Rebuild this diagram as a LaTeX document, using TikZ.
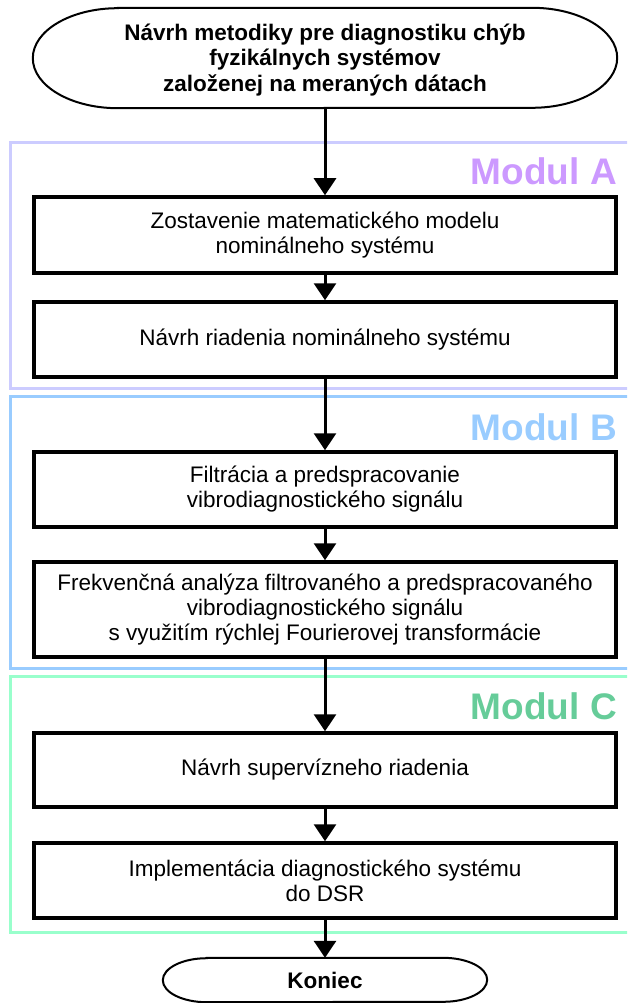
\documentclass[tikz,border=0pt]{standalone}
\usepackage{fontspec}
\setmainfont{Liberation Sans}
\usetikzlibrary{arrows.meta}

\definecolor{frameA}{HTML}{CCCCFF}
\definecolor{frameB}{HTML}{99CCFF}
\definecolor{frameC}{HTML}{99FFCC}
\definecolor{labelA}{HTML}{CC99FF}
\definecolor{labelB}{HTML}{99CCFF}
\definecolor{labelC}{HTML}{66CC99}

\begin{document}
\begin{tikzpicture}[x=1pt,y=-1pt,
  stepbox/.style={draw,line width=3.5pt,minimum width=582pt,inner sep=0pt,
    align=center,font=\fontsize{22.5}{25}\selectfont},
  termtext/.style={inner sep=0pt,align=center,font=\bfseries\fontsize{22.5}{25.5}\selectfont},
  termline/.style={line width=2pt},
  flow/.style={line width=3pt,-{Triangle[length=17pt,width=22pt]}},
  modframe/.style={line width=3pt},
  modlabel/.style={anchor=north east,inner sep=0pt,font=\bfseries\fontsize{37}{37}\selectfont},
]
\useasboundingbox (0,0) rectangle (627,1003);
\clip (0,0) rectangle (627,1003);

% module frames (open to the right edge)
\draw[modframe,frameA] (10,143) rectangle (660,388);
\draw[modframe,frameB] (10,396) rectangle (660,668);
\draw[modframe,frameC] (10,676) rectangle (660,932);
\node[modlabel,labelA] (labA) at (617,157) {Modul A};
\node[modlabel,labelB] (labB) at (617,413) {Modul B};
\node[modlabel,labelC] (labC) at (617,692) {Modul C};

% start terminal
\node[minimum width=584pt,minimum height=100pt,inner sep=0pt] (start) at (325,58) {};
\draw[termline] ([xshift=85pt]start.north west) -- ([xshift=-85pt]start.north east)
  arc[start angle=90,end angle=-90,x radius=85pt,y radius=50pt]
  -- ([xshift=85pt]start.south west)
  arc[start angle=270,end angle=90,x radius=85pt,y radius=50pt] -- cycle;
\node[termtext] (startT) at (325,60) {Návrh metodiky pre diagnostiku chýb\\fyzikálnych systémov\\založenej na meraných dátach};

% process steps
\node[stepbox,minimum height=76pt] (s1) at (325,235) {Zostavenie matematického modelu\\nominálneho systému};
\node[stepbox,minimum height=75pt] (s2) at (325,339.5) {Návrh riadenia nominálneho systému};
\node[stepbox,minimum height=75pt] (s3) at (325,489.5) {Filtrácia a predspracovanie\\vibrodiagnostického signálu};
\node[stepbox,minimum height=95pt] (s4) at (325,609.5) {Frekvenčná analýza filtrovaného a predspracovaného\\vibrodiagnostického signálu\\s využitím rýchlej Fourierovej transformácie};
\node[stepbox,minimum height=74pt] (s5) at (325,770) {Návrh supervízneho riadenia};
\node[stepbox,minimum height=75pt] (s6) at (325,880.5) {Implementácia diagnostického systému\\do DSR};

% end terminal
\node[minimum width=324pt,minimum height=44pt,inner sep=0pt] (stop) at (325,980) {};
\draw[termline] ([xshift=44pt]stop.north west) -- ([xshift=-44pt]stop.north east)
  arc[start angle=90,end angle=-90,x radius=44pt,y radius=22pt]
  -- ([xshift=44pt]stop.south west)
  arc[start angle=270,end angle=90,x radius=44pt,y radius=22pt] -- cycle;
\node[termtext] (stopT) at (stop) {Koniec};

% connectors
\draw[flow] (start.south) -- (s1.north);
\draw[flow] (s1.south) -- (s2.north);
\draw[flow] (s2.south) -- (s3.north);
\draw[flow] (s3.south) -- (s4.north);
\draw[flow] (s4.south) -- (s5.north);
\draw[flow] (s5.south) -- (s6.north);
\draw[flow] (s6.south) -- (stop.north);
\end{tikzpicture}
\end{document}
